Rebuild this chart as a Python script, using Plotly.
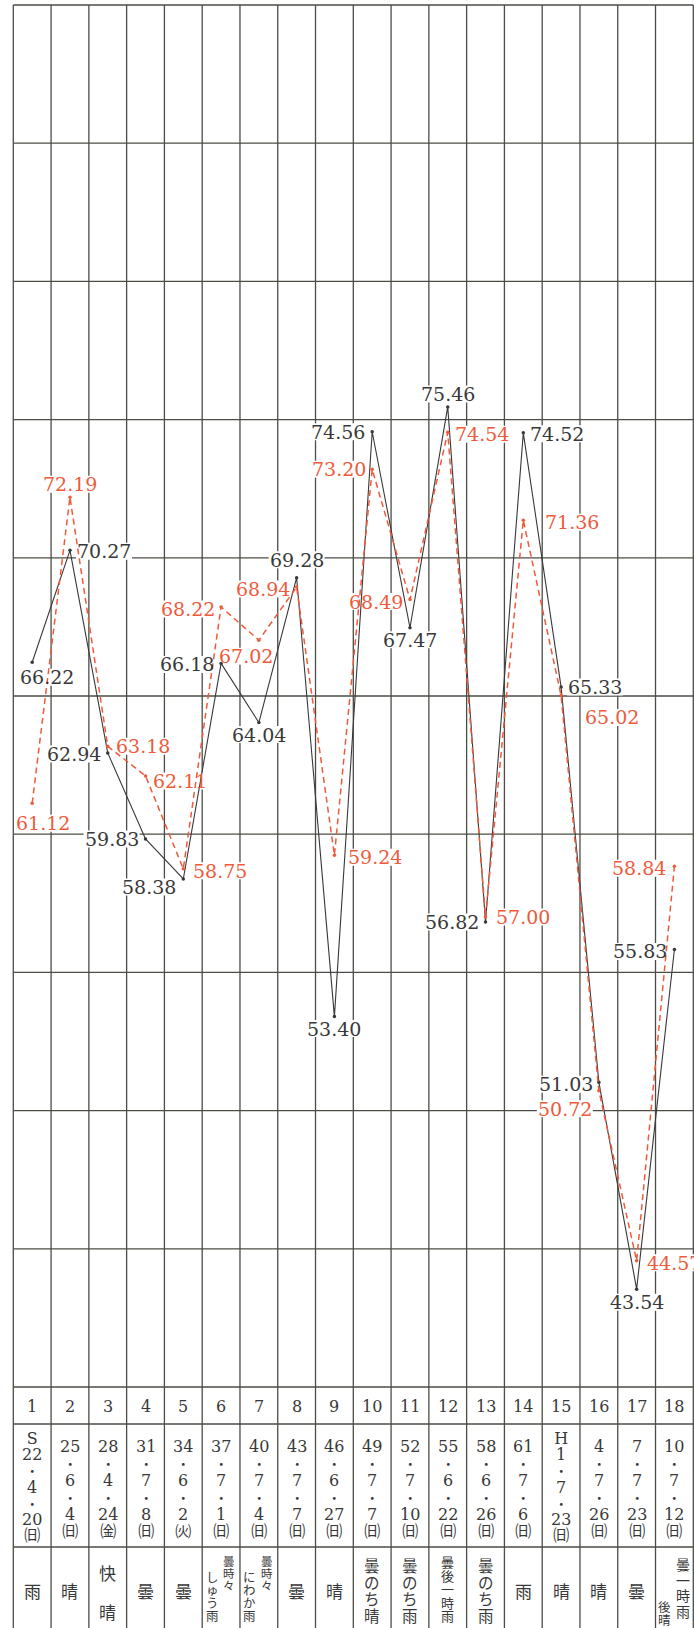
import plotly.graph_objects as go

# values (black = solid line, red = dashed line)
cols = list(range(1, 19))
black = [66.22, 70.27, 62.94, 59.83, 58.38, 66.18, 64.04, 69.28, 53.40,
         74.56, 67.47, 75.46, 56.82, 74.52, 65.33, 51.03, 43.54, 55.83]
red = [61.12, 72.19, 63.18, 62.11, 58.75, 68.22, 67.02, 68.94, 59.24,
       73.20, 68.49, 74.54, 57.00, 71.36, 65.02, 50.72, 44.57, 58.84]

# table rows
years = ['S22', '25', '28', '31', '34', '37', '40', '43', '46',
         '49', '52', '55', '58', '61', 'H1', '4', '7', '10']
months = ['4', '6', '4', '7', '6', '7', '7', '7', '6',
          '7', '7', '6', '6', '7', '7', '7', '7', '7']
days = ['20', '4', '24', '8', '2', '1', '4', '7', '27',
        '7', '10', '22', '26', '6', '23', '26', '23', '12']
weekdays = ['日', '日', '金', '日', '火', '日', '日', '日', '日',
            '日', '日', '日', '日', '日', '日', '日', '日', '日']
weather = ['雨', '晴', '快晴', '曇', '曇', ('曇時々', 'しゅう雨'), ('曇時々', 'にわか雨'),
           '曇', '晴', '曇のち晴', '曇のち雨', '曇後一時雨', '曇のち雨', '雨', '晴', '晴', '曇',
           ('曇一時雨', '後晴')]

# label placement relative to the point, in px (right, down)
black_off = [(15, 15), (34, 1), (-34, 1), (-34, 0), (-34, 8), (-34, 1), (0, 12), (0, -18), (0, 12),
             (-34, 0), (0, 12), (0, -13), (-34, 0), (34, 1), (34, 0), (-33, 2), (0, 13), (-34, 2)]
red_off = [(11, 20), (0, -13), (35, 0), (34, 5), (37, 2), (-33, 2), (-13, 16), (-34, 2), (41, 2),
           (-33, 0), (-34, 2), (34, 2), (37, 0), (49, 2), (51, 22), (-34, 18), (37, 2), (-35, 2)]

# page geometry (px)
W, H = 694, 1628
LEFT, RIGHT = 13.3, 693.3
TOP, BOTTOM = 5, 1387
YMIN, YMAX, YSTEP = 40, 90, 5
ROW_DATE, ROW_WEATHER = 1424, 1547

GRID = '#4c4c46'
INK = '#383838'
RED = '#ef5a3b'
SERIF = 'DejaVu Serif, Noto Sans CJK JP'
CJK = 'Noto Sans CJK JP'

ppx = (RIGHT - LEFT) / len(cols)
ppy = (BOTTOM - TOP) / (YMAX - YMIN)
x_range = [0.5 - LEFT / ppx, len(cols) + 0.5 + (W - RIGHT) / ppx]
y_range = [YMIN - (H - BOTTOM) / ppy, YMAX + TOP / ppy]


def py(px):
    return 1 - px / H


shapes = []
# vertical rules through chart and table
for i in range(len(cols) + 1):
    shapes.append(dict(type='line', xref='x', yref='paper', x0=0.5 + i, x1=0.5 + i,
                       y0=0, y1=py(TOP), line=dict(color=GRID, width=1.3), layer='below'))
# horizontal grid of the chart
for v in range(YMIN, YMAX + 1, YSTEP):
    shapes.append(dict(type='line', xref='x', yref='y', x0=0.5, x1=len(cols) + 0.5,
                       y0=v, y1=v, line=dict(color=GRID, width=1.3), layer='below'))
# table rows
for r in (ROW_DATE, ROW_WEATHER):
    shapes.append(dict(type='line', xref='x', yref='paper', x0=0.5, x1=len(cols) + 0.5,
                       y0=py(r), y1=py(r), line=dict(color=GRID, width=1.3), layer='below'))

annotations = []


def add_labels(values, offsets, color):
    for c, v, (dx, dy) in zip(cols, values, offsets):
        cx = c + dx / ppx
        cy = v - dy / ppy
        # white patch so the label cuts the grid lines
        shapes.append(dict(type='rect', xref='x', yref='y',
                           x0=cx - 28 / ppx, x1=cx + 28 / ppx,
                           y0=cy - 8.5 / ppy, y1=cy + 8.5 / ppy,
                           fillcolor='white', line=dict(width=0), layer='below'))
        annotations.append(dict(x=cx, y=cy, xref='x', yref='y', text=f'{v:.2f}',
                                showarrow=False, xanchor='center', yanchor='middle',
                                font=dict(family=SERIF, size=19, color=color)))


add_labels(black, black_off, INK)
add_labels(red, red_off, RED)


def stack(c, lines, y_first, pitch, sizes, family=SERIF, dx=0):
    # vertical column of text; line pitch set through the base font size
    if isinstance(sizes, (int, float)):
        sizes = [sizes] * len(lines)
    text = '<br>'.join(f"<span style='font-size:{s}px'>{t}</span>" for t, s in zip(lines, sizes))
    yc = y_first + (len(lines) - 1) * pitch / 2
    annotations.append(dict(x=c, y=py(yc), xref='x', yref='paper', text=text, xshift=dx,
                            showarrow=False, xanchor='center', yanchor='middle',
                            font=dict(family=family, size=pitch / 1.3 if len(lines) > 1 else sizes[0],
                                      color=INK)))


sun = {'日': '㈰', '金': '㈮', '火': '㈫'}
for c, yr, m, d, wd in zip(cols, years, months, days, weekdays):
    stack(c, [str(c)], 1406, 0, 16)
    if yr[0].isalpha():
        head, y0, pitch = [yr[0], yr[1:]], 1438, 16.2
    else:
        head, y0, pitch = [yr], 1447, 16.9
    lines = head + ['・', m, '・', d, sun[wd]]
    sizes = [16] * len(head) + [13, 16, 13, 16, 16]
    stack(c, lines, y0, pitch, sizes)


def weather_specs(entry):
    if isinstance(entry, tuple):
        right, left = entry
        if len(right) == 4:
            return [(right, 9, 1564, 15.5, 14), (left, -10, 1606, 13, 12.5)]
        return [(right, 8, 1561, 12, 11.5), (left, -9, 1576, 13, 12.5)]
    n = len(entry)
    if n == 1:
        return [(entry, 0, 1590, 0, 17)]
    if n == 2:
        return [(entry, 0, 1572, 39, 17)]
    if n == 4:
        return [(entry, 0, 1565, 16.5, 15.5)]
    return [(entry, 0, 1561, 13.5, 13)]


for c, w in zip(cols, weather):
    for s, dx, y0, pitch, size in weather_specs(w):
        stack(c, list(s), y0, pitch, size, CJK, dx)

fig = go.Figure()
fig.add_trace(go.Scatter(x=cols, y=black, mode='lines+markers',
                         line=dict(color=INK, width=1.1),
                         marker=dict(size=3.5, color=INK)))
fig.add_trace(go.Scatter(x=cols, y=red, mode='lines+markers',
                         line=dict(color=RED, width=1.5, dash='6px,4px'),
                         marker=dict(size=3.5, color=RED)))

fig.update_layout(width=W, height=H, margin=dict(l=0, r=0, t=0, b=0),
                  paper_bgcolor='white', plot_bgcolor='white', showlegend=False,
                  xaxis=dict(range=x_range, visible=False, fixedrange=True),
                  yaxis=dict(range=y_range, visible=False, fixedrange=True),
                  shapes=shapes, annotations=annotations)

fig.write_html('out.html', config={'displayModeBar': False},
               post_script="document.body.style.margin='0';document.body.style.overflow='hidden';")
